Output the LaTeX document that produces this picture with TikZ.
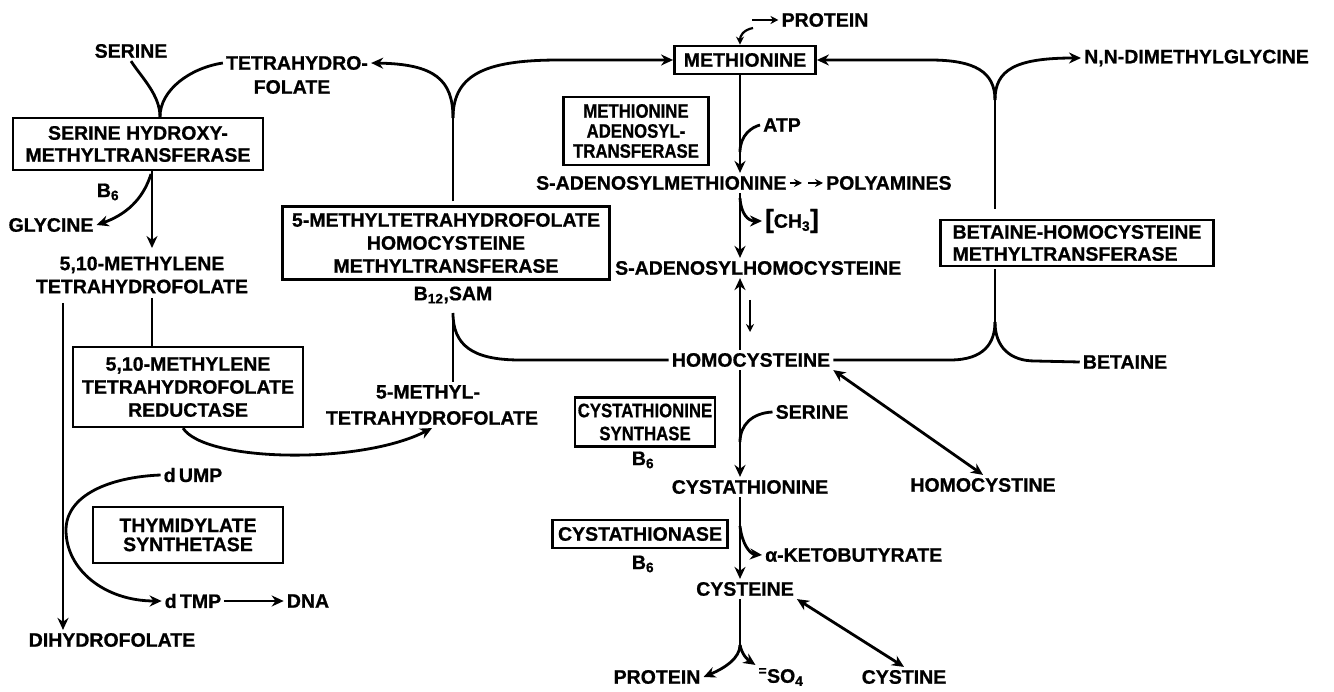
\documentclass[tikz,border=0pt]{standalone}
\usepackage{fontspec}
\usepackage{graphicx}
\setmainfont{Liberation Sans}[BoldFeatures={FakeBold=0.8}]
\usetikzlibrary{arrows.meta,calc}
\newcommand{\nar}[1]{\scalebox{0.86}[1]{#1}}
\newcommand{\brk}[1]{{\fontsize{26}{26}\selectfont #1}}
\begin{document}
\begin{tikzpicture}[x=1pt,y=-1pt,
  every node/.style={font=\bfseries\fontsize{19.5}{23}\selectfont, inner sep=3pt},
  enz/.style={draw, line width=2.3pt, inner sep=2pt, align=center},
  ln/.style={line width=2.8pt},
  ar/.style={ln, -{Stealth[length=12pt,width=11pt]}},
  sar/.style={line width=2.2pt, -{Stealth[length=8pt,width=8pt]}},
  dar/.style={ln, {Stealth[length=12pt,width=11pt]}-{Stealth[length=12pt,width=11pt]}},
]
\useasboundingbox (0,0) rectangle (1334,692);
\fill[white] (0,0) rectangle (1334,692);

% ---------- column helpers
\coordinate (cx) at (740,0);
\coordinate (cl) at (152,0);

% ---------- top left
\node (ser1) at (131,51) {SERINE};
\node (thf1) at (297,63) {TETRAHYDRO-};
\node (thf2) at (292,87) {FOLATE};
\node[enz, minimum width=250, minimum height=52, font=\bfseries\fontsize{19.5}{22}\selectfont] (shmt) at (138,144) {SERINE HYDROXY-\\METHYLTRANSFERASE};
\coordinate (j1) at (shmt.north -| 160,0);
\draw[ln] (ser1.south) .. controls (142,78) and (160,95) .. (j1);
\draw[ln] (thf1.west) .. controls (190,68) and (160,90) .. (j1);

\node (b6a) at (108,192) {B\textsubscript{6}};
\node (gly) at (51,225) {GLYCINE};
\node[align=center] (mlthf) at (142,275) {5,10-METHYLENE\\TETRAHYDROFOLATE};
\coordinate (s1) at (151,174);
\coordinate (a1) at (152,248);
\draw[ar] (shmt.south -| cl) -- (a1);
\draw[ar] (s1) .. controls (143,200) and (125,215) .. (gly.east);

% reductase
\node[enz, minimum width=230, minimum height=80] (red) at (188,387) {5,10-METHYLENE\\TETRAHYDROFOLATE\\REDUCTASE};
\coordinate (r0) at (152,298);
\draw[ln] (r0) -- (red.north -| cl);

\node (mth1) at (428,392) {5-METHYL-};
\node (mth2) at (432,418) {TETRAHYDROFOLATE};
\draw[ar] (red.south -| 183,0) .. controls (205,462) and (360,465) .. (mth2.south);

% left vertical to dihydrofolate
\coordinate (v0) at (63,303);
\node (dhf) at (112,640) {DIHYDROFOLATE};
\draw[ar] (v0) -- (dhf.north -| v0);

% thymidylate
\node (dump) at (193,475) {d\,UMP};
\node[enz, minimum width=190, minimum height=56, font=\bfseries\fontsize{19.5}{19}\selectfont] (ts) at (188,535) {THYMIDYLATE\\SYNTHETASE};
\node (dtmp) at (193,601) {d\,TMP};
\node (dna) at (308,601) {DNA};
\coordinate (cc) at (66,530);
\draw[ar] (dump.west) .. controls (110,477) and (66,495) .. (cc) .. controls (66,570) and (105,601) .. (dtmp.west);
\draw[ar] (dtmp.east) -- (dna.west);

% ---------- 5-MTHF homocysteine methyltransferase
\node[enz, minimum width=327, minimum height=73] (mthf) at (446,243) {5-METHYLTETRAHYDROFOLATE\\HOMOCYSTEINE\\METHYLTRANSFERASE};
\node (b12) at (453,295) {B\textsubscript{12},SAM};
\coordinate (f1) at (453,118);
\draw[ln] ($(mthf.north -| f1)+(0,-4)$) -- (f1);
\draw[ar] (f1) .. controls (453,80) and (435,64) .. (thf1.east);

% methionine
\node[enz, line width=2.8pt, minimum width=141, minimum height=28] (meth) at (745,60) {METHIONINE};
\draw[ar] (f1) .. controls (453,72) and (490,60) .. (560,60) -- (meth.west);

\node (prot1) at (825,20) {PROTEIN};
\coordinate (p0) at (752,20);
\draw[sar] (p0) -- (prot1.west);
\coordinate (p1) at (753,28);
\draw[sar] (p1) .. controls (743,30) and (740,36) .. (meth.north -| cx);

% methionine adenosyltransferase
\node[enz, minimum width=145, minimum height=68, font=\bfseries\fontsize{19.5}{20}\selectfont] (mat) at (636,131) {\nar{METHIONINE}\\\nar{ADENOSYL-}\\\nar{TRANSFERASE}};
\node (atp) at (782,125) {ATP};
\coordinate (k1) at (740,152);
\draw[ln] (atp.west) .. controls (752,127) and (740,135) .. (k1);

\node[anchor=west] (sam) at (533,183) {S-ADENOSYLMETHIONINE};
\node[anchor=west] (poly) at (823,183) {POLYAMINES};
\coordinate (q1) at (802,183);
\coordinate (q2) at (808,183);
\draw[sar] (sam.east) -- (q1);
\draw[sar] (q2) -- (poly.west);
\draw[ar] (meth.south -| cx) -- (sam.north -| cx);

\node (ch3) at (792,221) {\brk{[}CH\textsubscript{3}\brk{]}};
\node[anchor=west] (sah) at (612,268) {S-ADENOSYLHOMOCYSTEINE};
\draw[ar] (sam.south -| cx) -- (sah.north -| cx);
\coordinate (m1) at (740,198);
\draw[ar] (m1) .. controls (741,214) and (748,221) .. (ch3.west);

% homocysteine
\node (homo) at (751,360) {HOMOCYSTEINE};
\draw[ar] (homo.north -| cx) -- (sah.south -| cx);
\coordinate (d1) at (750,300);
\coordinate (d2) at (750,332);
\draw[sar] (d1) -- (d2);

\coordinate (f2) at (453,313);
\draw[ln] (homo.west) -- (520,360) .. controls (472,360) and (453,345) .. (f2);
\draw[ln] (f2) -- (mth1.north -| f2);

% betaine side
\node[enz, minimum width=273, minimum height=46, align=left, font=\bfseries\fontsize{19.5}{22}\selectfont] (bhmt) at (1077,243) {BETAINE-HOMOCYSTEINE\\METHYLTRANSFERASE};
\node (bet) at (1125,362) {BETAINE};
\coordinate (f3) at (995,322);
\draw[ln] (homo.east) -- (950,360) .. controls (985,360) and (995,342) .. (f3);
\draw[ln] (f3) -- ($(bhmt.south -| f3)+(0,2)$);
\draw[ln] (f3) .. controls (995,347) and (1010,361) .. (1035,361) -- (bet.west);

\node[anchor=west] (dmg) at (1081,58) {N,N-DIMETHYLGLYCINE};
\coordinate (f4) at (995,100);
\draw[ln] ($(bhmt.north -| f4)+(0,-10)$) -- (f4);
\draw[ar] (f4) .. controls (995,72) and (975,60) .. (930,60) -- (meth.east);
\draw[ar] (f4) .. controls (995,70) and (1015,58) .. (dmg.west);

% homocystine
\node (hcy) at (983,485) {HOMOCYSTINE};
\draw[dar] (homo.south east) -- (hcy.north);

% cystathionine
\node[enz, minimum width=140, minimum height=49] (cbs) at (645,422) {\nar{CYSTATHIONINE}\\\nar{SYNTHASE}};
\node (b6b) at (643,460) {B\textsubscript{6}};
\node (ser2) at (812,412) {SERINE};
\node (cysta) at (750,487) {CYSTATHIONINE};
\draw[ar] (homo.south -| cx) -- (cysta.north -| cx);
\coordinate (k2) at (740,442);
\draw[ln] (ser2.west) .. controls (752,413) and (740,425) .. (k2);

\node[enz, minimum width=175, minimum height=28] (cgl) at (640,534) {CYSTATHIONASE};
\node (b6c) at (643,564) {B\textsubscript{6}};
\node[anchor=west] (akb) at (762,555) {α-KETOBUTYRATE};
\node (cys) at (745,589) {CYSTEINE};
\draw[ar] (cysta.south -| cx) -- (cys.north -| cx);
\coordinate (k3) at (740,526);
\draw[ar] (k3) .. controls (742,544) and (750,554) .. (akb.west);

% cysteine fate
\node (prot2) at (657,677) {PROTEIN};
\node (so4) at (781,677) {\textsuperscript{=}SO\textsubscript{4}};
\node (cyst) at (904,677) {CYSTINE};
\coordinate (f5) at (740,645);
\draw[ln] (cys.south -| cx) -- (f5);
\draw[ar] (f5) .. controls (740,658) and (725,668) .. (prot2.east);
\draw[ar] (f5) .. controls (742,655) and (748,660) .. (so4.north west);
\draw[dar] (cys.south east) -- (cyst.north);

\end{tikzpicture}
\end{document}
